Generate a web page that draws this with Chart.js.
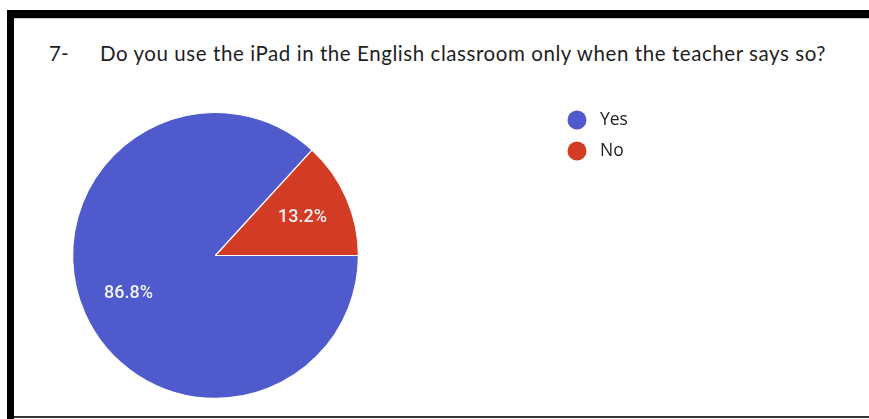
<!DOCTYPE html>
<html>
<head>
<meta charset="utf-8">
<script src="https://cdn.jsdelivr.net/npm/chart.js@4/dist/chart.umd.min.js"></script>
<style>
  html, body { margin: 0; padding: 0; background: #fff; }
  body { width: 869px; height: 419px; position: relative; overflow: hidden; }
  .frame-top { position: absolute; left: 7px; top: 10px; width: 862px; height: 8px; background: #000; }
  .frame-top-line { position: absolute; left: 14px; top: 18px; width: 855px; height: 1px; background: #c8c8c8; }
  .frame-left { position: absolute; left: 7px; top: 10px; width: 7px; height: 409px; background: #000; }
  .frame-bottom { position: absolute; left: 14px; top: 416px; width: 855px; height: 2px; background: #333; }
  .title { position: absolute; top: 41px; left: 49px; font-family: Lato, "Open Sans", sans-serif; font-size: 20.5px; color: #1e1e1e; white-space: nowrap; }
  .title .num { display: inline-block; width: 51px; }
  #pie { position: absolute; left: 0; top: 0; }
</style>
</head>
<body>
<div class="frame-top"></div>
<div class="frame-top-line"></div>
<div class="frame-left"></div>
<div class="frame-bottom"></div>
<div class="title"><span class="num">7-</span><span id="q">Do you use the iPad in the English classroom only when the teacher says so?</span></div>
<canvas id="pie" width="869" height="419"></canvas>
<script>
// answers and their share of responses (%)
const answers = ['Yes', 'No'];
const shares = [86.8, 13.2];
const sliceColors = ['#4f5bcd', '#d23c24'];

// stretch question text to its line length
const q = document.getElementById('q');
const want = 726;
const have = q.getBoundingClientRect().width;
q.style.letterSpacing = ((want - have) / q.textContent.length) + 'px';

/* percent text inside each slice, at ~2/3 of the radius */
const sliceLabels = {
  id: 'sliceLabels',
  afterDatasetsDraw(chart) {
    const ctx = chart.ctx;
    const meta = chart.getDatasetMeta(0);
    ctx.save();
    ctx.font = '500 18px Roboto, Arial, sans-serif';
    ctx.fillStyle = '#f2f2f2';
    ctx.textAlign = 'center';
    ctx.textBaseline = 'middle';
    meta.data.forEach((arc, i) => {
      const { x, y, startAngle, endAngle, outerRadius } = arc.getProps(['x','y','startAngle','endAngle','outerRadius'], true);
      const mid = (startAngle + endAngle) / 2;
      const r = outerRadius * 0.665;
      ctx.fillText(shares[i].toFixed(1) + '%', x + Math.cos(mid) * r, y + Math.sin(mid) * r);
    });
    ctx.restore();
  }
};

/* legend to the right: coloured dot + answer */
const sideLegend = {
  id: 'sideLegend',
  afterDraw(chart) {
    const ctx = chart.ctx;
    const ds = chart.data.datasets[0];
    ctx.save();
    ctx.font = '17.5px "Open Sans", Lato, sans-serif';
    ctx.textBaseline = 'middle';
    chart.data.labels.forEach((lab, i) => {
      const cy = 120 + i * 31;
      ctx.beginPath();
      ctx.arc(577, cy, 9.5, 0, Math.PI * 2);
      ctx.fillStyle = ds.backgroundColor[i];
      ctx.fill();
      ctx.fillStyle = '#222';
      ctx.fillText(lab, 600, cy);
    });
    ctx.restore();
  }
};

new Chart(document.getElementById('pie'), {
  type: 'pie',
  data: {
    labels: answers,
    datasets: [{
      data: shares,
      backgroundColor: sliceColors,
      borderColor: '#ffffff',
      borderWidth: 1.2
    }]
  },
  options: {
    responsive: false,
    animation: false,
    rotation: 90,
    layout: { padding: { left: 72, top: 112, right: 510, bottom: 20 } },
    plugins: { legend: { display: false }, tooltip: { enabled: false } }
  },
  plugins: [sliceLabels, sideLegend]
});
</script>
</body>
</html>
